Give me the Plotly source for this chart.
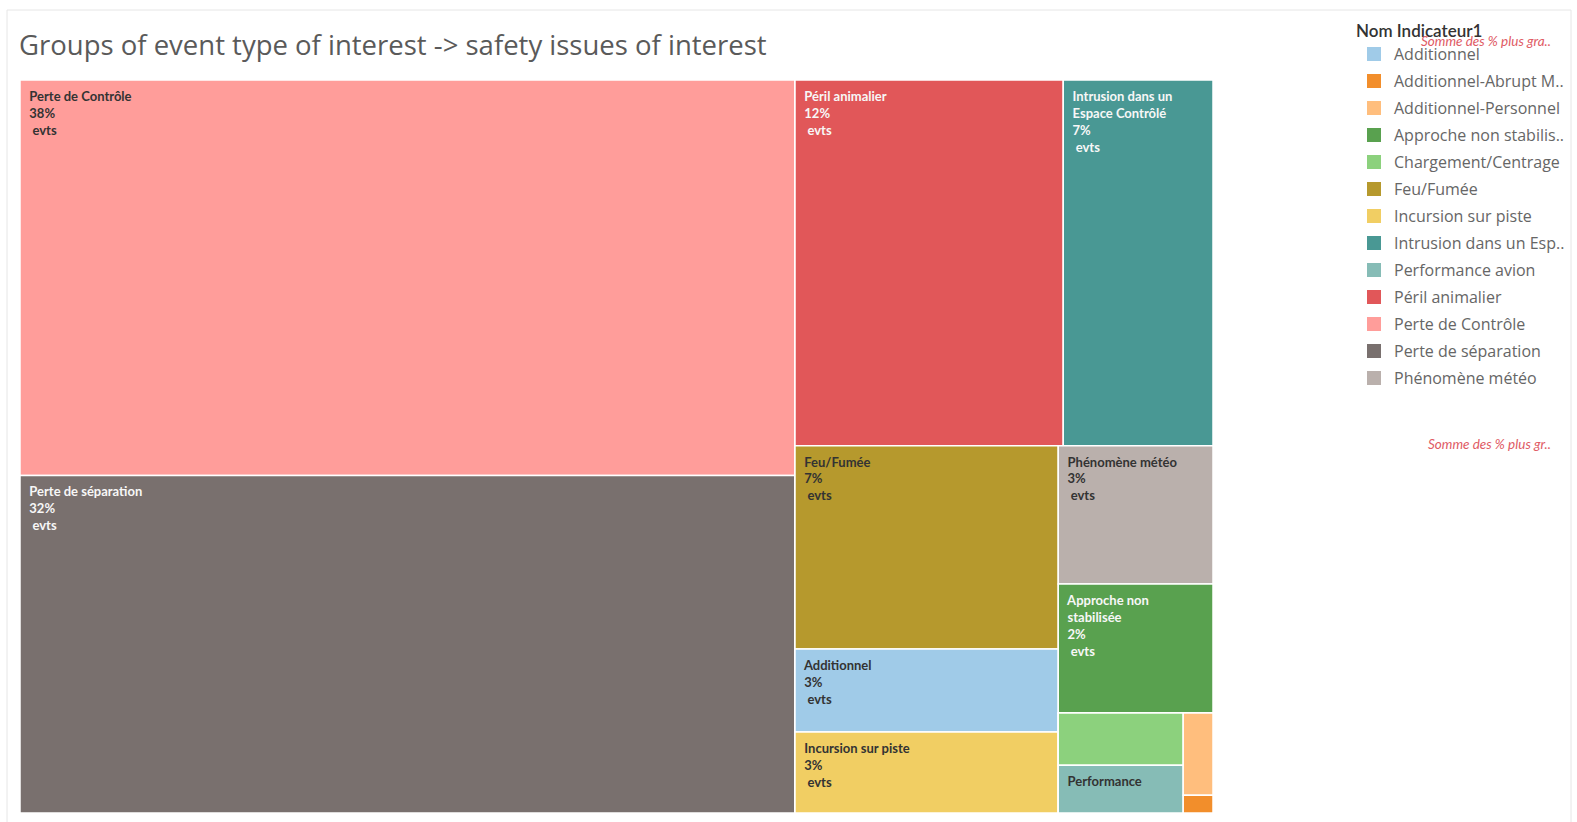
import plotly.graph_objects as go

# ---------------- data ----------------
categories = [
    "Perte de Contrôle", "Perte de séparation", "Péril animalier",
    "Intrusion dans un Espace Contrôlé", "Feu/Fumée", "Additionnel",
    "Incursion sur piste", "Phénomène météo", "Approche non stabilisée",
    "Chargement/Centrage", "Performance avion", "Additionnel-Personnel",
    "Additionnel-Abrupt M..",
]
# relative size of each tile (read from the tile areas, in % units)
values = [37.5, 32.0, 12.0, 6.7, 6.55, 2.67, 2.61, 2.62, 2.44, 0.80, 0.73, 0.30, 0.065]
# percentage labels shown in the tiles ("" where the tile shows none)
pct_labels = ["38%", "32%", "12%", "7%", "7%", "3%", "3%", "3%", "2%", "", "", "", ""]
# label lines as displayed in each tile (Tableau wraps / truncates)
tile_names = [
    ["Perte de Contrôle"], ["Perte de séparation"], ["Péril animalier"],
    ["Intrusion dans un", "Espace Contrôlé"], ["Feu/Fumée"], ["Additionnel"],
    ["Incursion sur piste"], ["Phénomène météo"], ["Approche non", "stabilisée"],
    [], ["Performance"], [], [],
]
# group (layout block) each category belongs to
leaf_groups = ["G1", "G1", "G2a", "G2a", "G2b1", "G2b1", "G2b1",
               "G2b2", "G2b2", "G3a", "G3a", "G3b", "G3b"]
group_ids = ["G1", "G2", "G2a", "G2b", "G2b1", "G2b2", "G3", "G3a", "G3b"]
group_parents = ["", "", "G2", "G2", "G2b", "G2b", "G2b2", "G3", "G3"]

# legend (alphabetical, as in the Tableau legend)
legend_labels = [
    "Additionnel", "Additionnel-Abrupt M..", "Additionnel-Personnel",
    "Approche non stabilis..", "Chargement/Centrage", "Feu/Fumée",
    "Incursion sur piste", "Intrusion dans un Esp..", "Performance avion",
    "Péril animalier", "Perte de Contrôle", "Perte de séparation",
    "Phénomène météo",
]
legend_keys = [
    "Additionnel", "Additionnel-Abrupt M..", "Additionnel-Personnel",
    "Approche non stabilisée", "Chargement/Centrage", "Feu/Fumée",
    "Incursion sur piste", "Intrusion dans un Espace Contrôlé",
    "Performance avion", "Péril animalier", "Perte de Contrôle",
    "Perte de séparation", "Phénomène météo",
]
color_map = {
    "Additionnel": "#A0CBE8",
    "Additionnel-Abrupt M..": "#F28E2B",
    "Additionnel-Personnel": "#FFBE7D",
    "Approche non stabilisée": "#59A14F",
    "Chargement/Centrage": "#8CD17D",
    "Feu/Fumée": "#B6992D",
    "Incursion sur piste": "#F1CE63",
    "Intrusion dans un Espace Contrôlé": "#499894",
    "Performance avion": "#86BCB6",
    "Péril animalier": "#E15759",
    "Perte de Contrôle": "#FF9D9A",
    "Perte de séparation": "#79706E",
    "Phénomène météo": "#BAB0AC",
}
light_text = {"Perte de séparation", "Péril animalier",
              "Intrusion dans un Espace Contrôlé", "Approche non stabilisée"}

# ---------------- build treemap ----------------
W, H = 1577, 822
IND = "  "  # small left indent like Tableau's label padding
TOP = "<span style='font-size:1px'> </span>"  # tiny first line -> top padding
ids, labels, parents, vals, colors, texts, tcolors = [], [], [], [], [], [], []
# leaves first (order inside each block = data order)
for cat, v, pct, nm, grp in zip(categories, values, pct_labels, tile_names, leaf_groups):
    ids.append(cat); labels.append(cat); parents.append(grp); vals.append(v)
    colors.append(color_map[cat])
    lines = [IND + s for s in nm]
    if nm and pct:
        lines += [IND + pct, IND + " evts"]
    texts.append("<br>".join([TOP] + lines) if lines else "")
    tcolors.append("#f7f7f7" if cat in light_text else "#333333")
# invisible layout blocks afterwards
for gid, gp in zip(group_ids, group_parents):
    ids.append(gid); labels.append(" "); parents.append(gp); vals.append(0)
    colors.append("#ffffff"); texts.append(""); tcolors.append("#333333")

fig = go.Figure()
fig.add_trace(go.Treemap(
    ids=ids, labels=labels, parents=parents, values=vals,
    branchvalues="remainder", sort=False,
    text=texts, textinfo="text", textposition="top left",
    textfont=dict(family="Lato", size=13, color=tcolors, weight="bold"),
    marker=dict(colors=colors, line=dict(width=1.5, color="#ffffff"),
                pad=dict(t=0, l=0, r=0, b=0)),
    tiling=dict(packing="slice-dice", pad=0),
    pathbar=dict(visible=False),
    root=dict(color="#ffffff"),
    domain=dict(x=[20 / W, 1213 / W], y=[1 - 813 / H, 1 - 80 / H]),
    hoverinfo="label+text",
))

# legend entries
for lab, key in zip(legend_labels, legend_keys):
    fig.add_trace(go.Scatter(
        x=[None], y=[None], mode="markers", name=lab, legendgroup=lab,
        marker=dict(symbol="square", size=14, color=color_map[key]),
        showlegend=True,
    ))

fig.update_layout(
    width=W, height=H,
    margin=dict(l=0, r=0, t=0, b=0),
    paper_bgcolor="white", plot_bgcolor="white",
    xaxis=dict(visible=False), yaxis=dict(visible=False),
    title=dict(text="Groups of event type of interest -> safety issues of interest",
               x=19 / W, xanchor="left", y=1 - 45 / H, yanchor="middle",
               font=dict(family="Open Sans", size=27.5, color="#5a5a5a")),
    legend=dict(
        title=dict(text="Nom Indicateur1",
                   font=dict(family="Lato", size=17, color="#333333", weight=600)),
        x=1354 / W, xanchor="left", y=1 - 15 / H, yanchor="top",
        font=dict(family="Open Sans", size=16, color="#666666"),
        traceorder="grouped", tracegroupgap=3.2, itemclick=False,
        bgcolor="rgba(0,0,0,0)",
    ),
    shapes=[dict(type="rect", xref="paper", yref="paper",
                 x0=7 / W, x1=1571 / W, y0=-0.05, y1=1 - 10 / H,
                 line=dict(color="#e6e6e6", width=1), fillcolor="rgba(0,0,0,0)",
                 layer="below")],
    annotations=[
        dict(text="Somme des % plus gra..", xref="paper", yref="paper",
             x=1553 / W, y=1 - 41 / H, xanchor="right", yanchor="middle",
             showarrow=False,
             font=dict(family="Lato", size=13.5, color="#E05A64", style="italic")),
        dict(text="Somme des % plus gr..", xref="paper", yref="paper",
             x=1553 / W, y=1 - 444 / H, xanchor="right", yanchor="middle",
             showarrow=False,
             font=dict(family="Lato", size=13.5, color="#E05A64", style="italic")),
    ],
)

fig.write_html("out.html")
